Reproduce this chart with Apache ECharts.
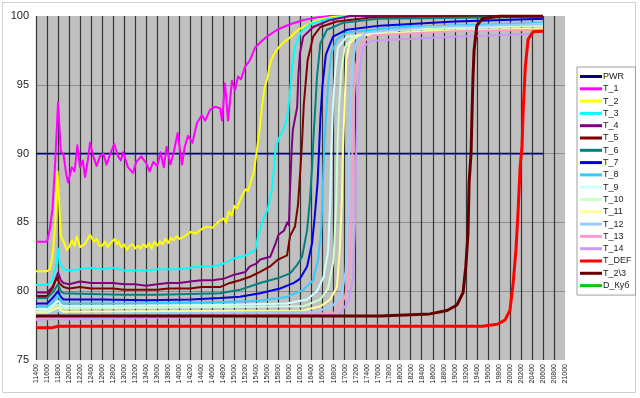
<!DOCTYPE html>
<html><head><meta charset="utf-8">
<script src="https://cdn.jsdelivr.net/npm/echarts@6/dist/echarts.min.js"></script>
<style>html,body{margin:0;padding:0;background:#fff}#c{width:640px;height:398px}</style>
</head><body><div id="c"></div>
<script>
const xMin = 11400, xMax = 21000, xStep = 200;
const yMin = 75, yMax = 100, yStep = 5;
const seriesNames = ['PWR','T_1','T_2','T_3','T_4','T_5','T_6','T_7','T_8','T_9','T_10','T_11','T_12','T_13','T_14','T_DEF','T_2\\3','D_Куб'];

const PWR = [[11400,90],[20600,90]];
const T_1 = [[11400,83.6],[11500,83.6],[11600,83.6],[11650,84.5],[11700,86],[11750,89.5],[11800,93.7],[11850,90.2],[11900,89.9],[11950,88.5],[11980,87.9],[12050,89.0],[12100,88.7],[12150,90.6],[12200,89.0],[12250,89.5],[12290,88.3],[12340,89.5],[12380,90.8],[12440,89.8],[12500,89.1],[12560,89.8],[12620,90.0],[12680,89.2],[12740,89.9],[12820,90.7],[12890,89.8],[12940,89.5],[12980,90.1],[13070,89.0],[13160,88.6],[13220,89.4],[13310,89.8],[13400,89.3],[13460,88.7],[13530,89.4],[13600,89.1],[13660,90.1],[13720,89.0],[13770,90.5],[13840,89.2],[13900,90.1],[13970,91.5],[14050,89.2],[14100,90.5],[14160,91.3],[14240,90.8],[14320,92.2],[14410,92.8],[14470,92.4],[14560,93.2],[14650,93.4],[14740,93.3],[14776,92.4],[14830,95.1],[14885,92.4],[14957,95.3],[15012,94.6],[15066,95.6],[15120,95.4],[15193,96.3],[15284,96.8],[15375,97.7],[15502,98.2],[15593,98.5],[15774,99.0],[16010,99.4],[16246,99.7],[16500,99.9],[16740,100],[20600,100]];
const T_2 = [[11400,81.45],[11600,81.45],[11650,81.6],[11700,82.5],[11750,85.0],[11790,88.7],[11820,86.5],[11850,84.0],[11900,83.6],[11960,83.0],[12000,83.2],[12050,83.7],[12100,83.3],[12140,84.0],[12200,83.2],[12280,83.4],[12340,83.8],[12380,84.1],[12450,83.6],[12500,83.8],[12550,83.3],[12600,83.3],[12650,83.6],[12700,83.2],[12750,83.5],[12830,83.8],[12870,83.4],[12900,83.6],[12950,83.2],[13000,83.4],[13050,83.0],[13100,83.3],[13150,83.4],[13200,83.1],[13250,83.3],[13300,83.1],[13350,83.4],[13400,83.2],[13450,83.5],[13500,83.1],[13550,83.6],[13600,83.3],[13650,83.6],[13700,83.4],[13750,83.8],[13800,83.5],[13850,83.9],[13900,83.7],[13950,84.0],[14000,83.8],[14100,84.0],[14200,84.3],[14300,84.2],[14400,84.5],[14500,84.7],[14600,84.6],[14700,85.0],[14800,85.3],[14850,85.0],[14900,85.8],[14950,85.5],[15000,86.2],[15050,86.0],[15100,86.6],[15150,87.0],[15200,87.4],[15250,87.3],[15300,88.0],[15350,88.6],[15400,90.0],[15450,91.5],[15500,93.4],[15550,94.8],[15600,95.5],[15650,96.6],[15700,97.1],[15800,97.7],[15900,98.1],[16000,98.4],[16100,98.8],[16200,99.1],[16400,99.5],[16600,99.8],[16800,99.95],[17000,100],[20600,100]];
const T_3 = [[11400,80.45],[11600,80.45],[11700,80.8],[11770,82.0],[11800,83.1],[11830,82.0],[11900,81.6],[12000,81.5],[12200,81.6],[12400,81.7],[12600,81.6],[12800,81.7],[13000,81.5],[13200,81.5],[13400,81.5],[13600,81.6],[13800,81.6],[14000,81.6],[14200,81.7],[14400,81.8],[14600,81.8],[14800,82.0],[15000,82.4],[15200,82.6],[15300,82.8],[15380,83.0],[15430,84.0],[15520,85.2],[15610,86.0],[15680,87.4],[15720,89.0],[15750,90.5],[15830,91.3],[15920,92.0],[15970,93.0],[16010,94.5],[16050,96.3],[16100,97.8],[16200,98.8],[16370,99.4],[16700,99.8],[17100,100],[20600,100]];
const T_4 = [[11400,79.9],[11600,79.9],[11700,80.3],[11770,81.0],[11800,81.35],[11850,80.8],[11900,80.6],[12000,80.5],[12200,80.7],[12400,80.6],[12600,80.6],[12800,80.6],[13000,80.5],[13200,80.5],[13400,80.4],[13600,80.5],[13800,80.6],[14000,80.6],[14200,80.7],[14400,80.8],[14600,80.8],[14800,80.9],[15000,81.2],[15200,81.4],[15280,81.8],[15400,82.0],[15470,82.3],[15650,82.5],[15750,83.5],[15800,84.1],[15900,84.4],[15960,85.0],[15990,84.8],[16010,87.4],[16040,90.3],[16060,91.7],[16140,93.4],[16160,95.6],[16190,97.3],[16250,98.5],[16430,99.2],[16730,99.7],[17100,100],[20600,100]];
const T_5 = [[11400,79.65],[11600,79.65],[11700,80.2],[11780,81.0],[11820,80.6],[11900,80.3],[12000,80.2],[12200,80.3],[12400,80.2],[12600,80.2],[12800,80.2],[13000,80.1],[13200,80.1],[13400,80.1],[13600,80.1],[13800,80.2],[14000,80.2],[14200,80.2],[14400,80.3],[14740,80.3],[14920,80.6],[15100,80.8],[15284,81.05],[15466,81.4],[15647,81.8],[15792,82.3],[15956,82.6],[16010,84.0],[16100,84.7],[16155,86.3],[16200,89.0],[16230,91.0],[16260,93.6],[16330,96.8],[16430,98.5],[16560,99.2],[16860,99.6],[17500,99.9],[20600,100]];
const T_6 = [[11400,79.5],[11600,79.5],[11700,79.9],[11800,80.5],[11850,80.0],[11900,79.85],[12400,79.8],[13000,79.75],[13600,79.75],[14200,79.8],[14740,79.85],[15100,80.1],[15466,80.6],[15830,81.0],[16010,81.3],[16137,81.9],[16228,82.5],[16319,84.4],[16370,86.6],[16410,89.0],[16440,91.5],[16470,93.5],[16500,95.6],[16560,98.0],[16680,99.0],[16970,99.5],[17600,99.8],[20600,99.95]];
const T_7 = [[11400,79.1],[11600,79.1],[11700,79.5],[11800,80.0],[11850,79.6],[11900,79.4],[12600,79.4],[13400,79.35],[14200,79.4],[14740,79.5],[15100,79.6],[15466,79.85],[15830,80.2],[16080,80.6],[16190,80.9],[16320,81.8],[16410,83.5],[16460,85.5],[16510,87.9],[16536,90.2],[16560,92.5],[16600,95.0],[16660,97.2],[16790,98.5],[17040,99.0],[17640,99.3],[19000,99.6],[20600,99.8]];
const T_8 = [[11400,78.9],[11600,78.9],[11700,79.2],[11800,79.7],[11850,79.3],[11900,79.1],[13000,79.1],[14740,79.2],[15470,79.3],[15960,79.6],[16250,80.1],[16430,80.8],[16520,82.3],[16580,84.7],[16610,88.1],[16630,90.3],[16660,92.5],[16700,95.0],[16760,97.3],[16860,98.3],[17040,98.8],[18000,99.2],[20600,99.5]];
const T_9 = [[11400,78.7],[11600,78.7],[11700,78.95],[11800,79.3],[11850,79.0],[11900,78.9],[14740,79.0],[15950,79.1],[16320,79.4],[16500,80.0],[16620,81.05],[16700,82.9],[16740,86.6],[16760,90.3],[16790,93.5],[16830,96.0],[16880,97.7],[17040,98.5],[18000,99.0],[20600,99.4]];
const T_10 = [[11400,78.55],[11600,78.55],[11700,78.8],[11800,79.0],[11850,78.8],[11900,78.75],[16250,78.9],[16560,79.4],[16700,80.2],[16800,82.3],[16850,86.6],[16870,90.3],[16900,93.5],[16940,96.0],[17000,97.7],[17150,98.5],[18000,99.0],[20600,99.3]];
const T_11 = [[11400,78.4],[11600,78.4],[11700,78.6],[11800,78.8],[11850,78.6],[11900,78.5],[16250,78.6],[16560,78.9],[16740,79.4],[16860,80.3],[16910,82.8],[16950,86.6],[16970,90.3],[17000,93.5],[17030,96.8],[17090,98.0],[17250,98.6],[18500,98.9],[20600,99.1]];
const T_12 = [[11400,78.3],[11600,78.3],[11700,78.45],[11800,78.6],[11850,78.4],[11900,78.35],[16500,78.5],[16800,79.0],[16950,79.8],[17020,81.5],[17060,85.0],[17080,90.0],[17110,94.0],[17150,96.8],[17220,98.2],[17400,98.8],[18500,99.2],[20600,99.4]];
const T_13 = [[11400,78.0],[11800,78.1],[11900,78.05],[16800,78.4],[17000,79.5],[17080,81.0],[17120,85.0],[17140,90.0],[17170,94.0],[17210,96.5],[17300,98.0],[17500,98.6],[19000,98.9],[20600,99.0]];
const T_14 = [[11400,77.9],[11800,78.0],[11900,77.95],[16900,78.3],[17080,79.3],[17150,81.0],[17190,85.0],[17210,90.0],[17240,94.0],[17280,96.5],[17350,97.8],[17500,98.2],[19000,98.5],[20400,98.7]];
const T_DEF = [[11400,77.35],[11700,77.35],[11800,77.45],[19500,77.45],[19770,77.6],[19910,77.9],[20000,78.6],[20060,80.6],[20110,83.0],[20150,85.9],[20185,89.0],[20220,90.5],[20240,93.0],[20280,96.3],[20330,98.3],[20420,98.85],[20600,98.9]];
const T_2_3 = [[11400,78.2],[17640,78.2],[18550,78.35],[18860,78.6],[19040,79.0],[19150,79.9],[19200,81.8],[19240,84.2],[19260,87.9],[19295,90.0],[19313,93.0],[19330,95.5],[19350,97.5],[19400,99.3],[19500,99.8],[19820,100],[20600,100]];
const D_KUB = [];

const seriesData = [PWR,T_1,T_2,T_3,T_4,T_5,T_6,T_7,T_8,T_9,T_10,T_11,T_12,T_13,T_14,T_DEF,T_2_3,D_KUB];
const colors = ['#000080','#FF00FF','#FFFF00','#00FFFF','#800080','#800000','#008080','#0000E0','#33CCFF','#CCFFFF','#CCFFCC','#FFFF99','#99CCFF','#FF99CC','#CC99FF','#FF0000','#660000','#00CC00'];
const widths = [1.6,2,2,2,2,2,2,2,2,2,2,2,2,2,2,3,3,2.5];

const chart = echarts.init(document.getElementById('c'), null, {renderer:'canvas'});
chart.setOption({
  animation:false,
  backgroundColor:'#ffffff',
  color: colors,
  textStyle:{fontFamily:'"Liberation Sans", Arial, sans-serif'},
  graphic:[{type:'rect', shape:{x:2.5,y:2.5,width:633,height:390}, style:{fill:'none', stroke:'#cfcfcf', lineWidth:1}, z:-1}],
  grid:{left:36, top:16, right:75, bottom:38, show:true, backgroundColor:'#c0c0c0', borderWidth:0},
  legend:{
    orient:'vertical', left:577, top:67,
    data: seriesNames,
    icon:'rect', itemWidth:22, itemHeight:3, itemGap:1.3,
    backgroundColor:'#ffffff', borderColor:'#a0a0a0', borderWidth:1, padding:[4,4,4,3],
    textStyle:{fontSize:9, color:'#222', lineHeight:11, padding:[0,0,0,-4]}
  },
  xAxis:{
    type:'value', min:xMin, max:xMax, interval:xStep,
    axisLine:{show:false}, axisTick:{show:false},
    axisLabel:{rotate:90, fontSize:7, color:'#222', margin:4, showMaxLabel:true, showMinLabel:true, formatter:(v)=>String(v)},
    splitLine:{show:true, showMinLine:true, showMaxLine:false, lineStyle:{color:'#333333', width:1.2}}
  },
  yAxis:{
    type:'value', min:yMin, max:yMax, interval:yStep,
    axisLine:{show:false}, axisTick:{show:false},
    axisLabel:{fontSize:11, color:'#222', margin:7},
    splitLine:{show:true, showMinLine:false, showMaxLine:false, lineStyle:{color:'#8c8c8c', width:1}}
  },
  series: seriesNames.map((n,i)=>({
    name:n, type:'line', data:seriesData[i], showSymbol:false, symbol:'none',
    smooth:false, lineStyle:{width:widths[i], color:colors[i], join:'round'}, itemStyle:{color:colors[i]},
    z: 2
  }))
});
</script></body></html>
